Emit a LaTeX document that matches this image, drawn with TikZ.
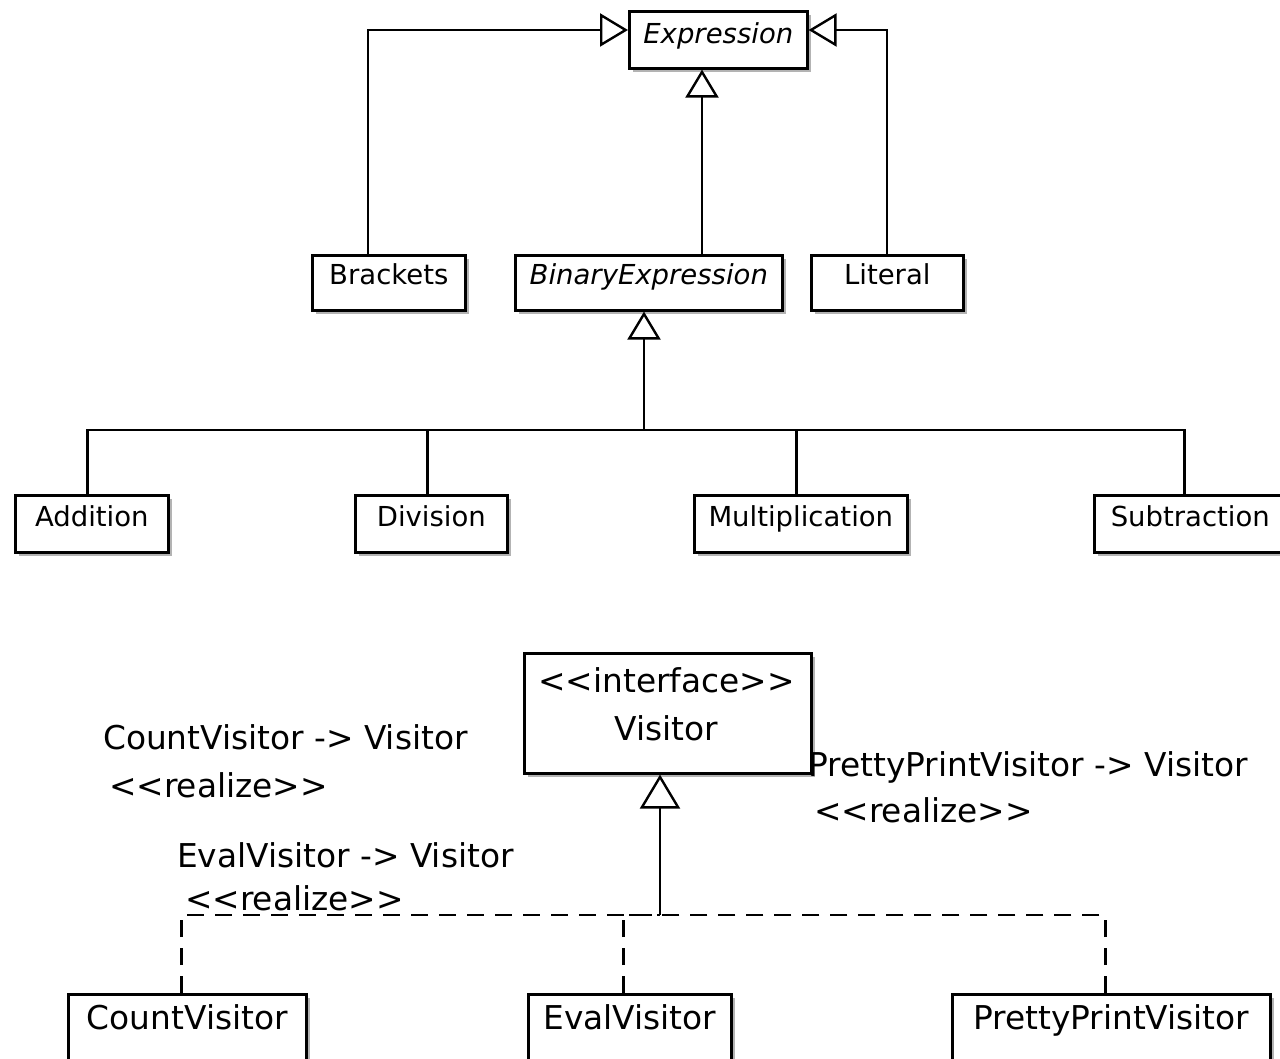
\documentclass[tikz,border=0pt]{standalone}
\usepackage{fontspec}
\setmainfont{DejaVu Sans}[Ligatures=NoCommon]
\usetikzlibrary{arrows.meta,shadows}
\newcommand{\upfont}{\fontsize{27.5}{33}\selectfont}
\newcommand{\lofont}{\fontsize{32.8}{40}\selectfont}
\begin{document}
\begin{tikzpicture}[x=1pt,y=-1pt,
  cls/.style={draw, line width=2.6pt, fill=white, anchor=north west, inner sep=0pt,
    drop shadow={shadow xshift=3.5pt, shadow yshift=-3.5pt, fill=black!50, opacity=0.6}},
  upcls/.style={cls, font=\upfont},
  locls/.style={cls, font=\lofont},
  conn/.style={draw, line width=2.4pt},
  gen/.style={conn, -{Triangle[open, length=28pt, width=33pt, line width=2.4pt]}},
  genbig/.style={conn, -{Triangle[open, length=34pt, width=40pt, line width=2.4pt]}},
  real/.style={conn, dash pattern=on 17pt off 11pt},
  lbl/.style={font=\lofont, inner sep=0pt, anchor=base west}]
\useasboundingbox (0,0) rectangle (1280,1059);
\clip (0,0) rectangle (1280,1059);

% ---------- upper hierarchy ----------
\node[upcls, minimum width=178pt, text height=32pt, text depth=25pt] (expr) at (628,10) {\itshape Expression};
\node[upcls, minimum width=153pt, text height=29pt, text depth=26pt] (brackets) at (311,254) {Brackets};
\node[upcls, minimum width=267pt, text height=29pt, text depth=26pt] (binexp) at (514,254) {\itshape BinaryExpression};
\node[upcls, minimum width=152pt, text height=29pt, text depth=26pt] (literal) at (810,254) {Literal};

\node[upcls, minimum width=153pt, text height=31pt, text depth=26pt] (addition) at (14,494) {Addition};
\node[upcls, minimum width=152pt, text height=31pt, text depth=26pt] (division) at (354,494) {Division};
\node[upcls, minimum width=213pt, text height=31pt, text depth=26pt] (mult) at (693,494) {Multiplication};
\node[upcls, minimum width=192pt, text height=31pt, text depth=26pt] (sub) at (1093,494) {Subtraction};

\coordinate (bl) at (368,30);
\coordinate (lr) at (887,30);
\coordinate (bm) at (702,0);
\coordinate (j) at (644,430);

\draw[gen] (bl |- brackets.north) -- (bl) -- (bl -| expr.west);
\draw[gen] (lr |- literal.north) -- (lr) -- (lr -| expr.east);
\draw[gen] (bm |- binexp.north) -- (bm |- expr.south);

\draw[conn] ([xshift=-4.5pt]addition.north) |- (j);
\draw[conn] ([xshift=-4pt]division.north) |- (j);
\draw[conn] ([xshift=-4.5pt]mult.north) |- (j);
\draw[conn] ([xshift=-6pt]sub.north) |- (j);
\draw[gen] (j) -- (j |- binexp.south);

% ---------- visitor hierarchy ----------
\node[locls, minimum width=287pt, minimum height=120pt] (visitor) at (523,652) {};
\node[font=\lofont, inner sep=0pt, anchor=base] (vst) at (666.5,692) {<{}<interface>{}>};
\node[font=\lofont, inner sep=0pt, anchor=base] (vnm) at (666.5,740) {Visitor};

\node[locls, minimum width=238pt, text height=35pt, text depth=100pt] (count) at (67,993) {CountVisitor};
\node[locls, minimum width=203pt, text height=35pt, text depth=100pt] (eval) at (527,993) {EvalVisitor};
\node[locls, minimum width=318pt, text height=35pt, text depth=100pt] (pretty) at (951,993) {PrettyPrintVisitor};

\coordinate (vj) at (660,915);
\draw[real] ([xshift=-6pt]count.north) |- (vj);
\draw[real] ([xshift=-6.5pt]eval.north) |- (vj);
\draw[real] ([xshift=-6pt]pretty.north) |- (vj);
\draw[genbig] (vj) -- (vj |- visitor.south);

\node[lbl] (cvl1) at (103,749) {CountVisitor -> Visitor};
\node[lbl] (cvl2) at (109,797) {<{}<realize>{}>};
\node[lbl] (evl1) at (177,867) {EvalVisitor -> Visitor};
\node[lbl] (evl2) at (185,910) {<{}<realize>{}>};
\node[lbl] (pvl1) at (808,776) {PrettyPrintVisitor -> Visitor};
\node[lbl] (pvl2) at (814,822) {<{}<realize>{}>};
\end{tikzpicture}
\end{document}
